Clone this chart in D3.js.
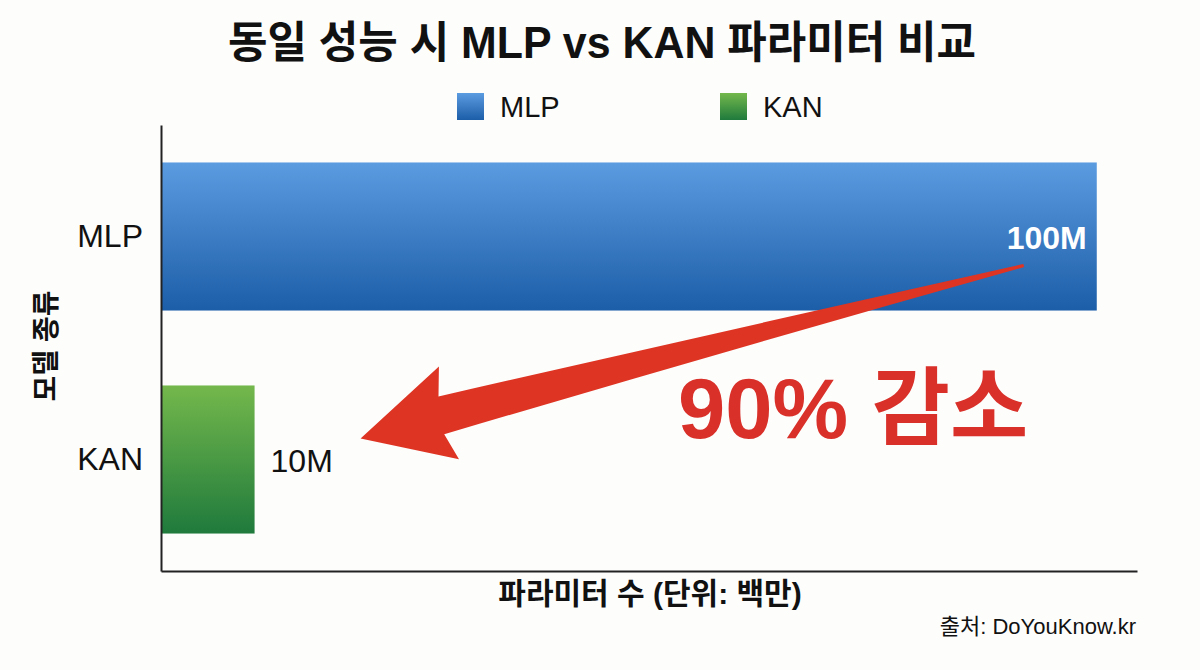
<!DOCTYPE html>
<html>
<head>
<meta charset="utf-8">
<script src="https://cdn.jsdelivr.net/npm/d3@7/dist/d3.min.js"></script>
<style>
  html, body { margin: 0; padding: 0; background: #fdfdfc; }
  svg { display: block; }
  text { font-family: "Liberation Sans", Arial, "Noto Sans CJK KR", sans-serif; }
</style>
</head>
<body>
<script>
const categories = ["MLP", "KAN"];
const values = [100, 10];
const valueLabels = ["100M", "10M"];
const legendLabels = ["MLP", "KAN"];
const titleText = "동일 성능 시 MLP vs KAN 파라미터 비교";
const xAxisTitle = "파라미터 수 (단위: 백만)";
const yAxisTitle = "모델 종류";
const sourceText = "출처: DoYouKnow.kr";
const annotationText = "90% 감소";

(function () {
const W = 1200, H = 670;
const svg = d3.select("body").append("svg").attr("width", W).attr("height", H);
svg.append("rect").attr("width", W).attr("height", H).attr("fill", "#fdfdfc");

const defs = svg.append("defs");
const grads = [
  { id: "gMLP", top: "#5b9be0", bottom: "#1c5ea8" },
  { id: "gKAN", top: "#74b84c", bottom: "#1f7a3c" }
];
grads.forEach(g => {
  const lg = defs.append("linearGradient").attr("id", g.id)
    .attr("x1", 0).attr("y1", 0).attr("x2", 0).attr("y2", 1);
  lg.append("stop").attr("offset", "0%").attr("stop-color", g.top);
  lg.append("stop").attr("offset", "100%").attr("stop-color", g.bottom);
});

const mLeft = 161, mRight = 1137, mTop = 125, mBottom = 571;
const x = d3.scaleLinear().domain([0, 104.3]).range([mLeft, mRight]);
const y = d3.scaleBand().domain(categories).range([mTop, mBottom])
  .paddingInner(0.336).paddingOuter(0.168);
const fills = ["url(#gMLP)", "url(#gKAN)"];

// Title
svg.append("text").attr("x", 602).attr("y", 58).attr("text-anchor", "middle")
  .attr("font-size", 44).attr("font-weight", 700).attr("fill", "#111")
  .attr("textLength", 748).attr("lengthAdjust", "spacingAndGlyphs")
  .text(titleText);

// Legend
const legendX = [457, 720];
legendLabels.forEach((l, i) => {
  svg.append("rect").attr("x", legendX[i]).attr("y", 93).attr("width", 27).attr("height", 27)
    .attr("fill", fills[i]);
  svg.append("text").attr("x", legendX[i] + 43).attr("y", 117)
    .attr("font-size", 29).attr("fill", "#111").text(l);
});

// Bars
svg.selectAll("rect.bar").data(categories).enter().append("rect")
  .attr("class", "bar")
  .attr("x", x(0))
  .attr("y", d => y(d))
  .attr("width", (d, i) => x(values[i]) - x(0))
  .attr("height", y.bandwidth())
  .attr("fill", (d, i) => fills[i]);

// Axes
const yAxis = svg.append("g").attr("transform", `translate(${mLeft},0)`)
  .call(d3.axisLeft(y).tickSize(0).tickPadding(18));
yAxis.select(".domain").attr("stroke", "#222").attr("stroke-width", 2);
yAxis.selectAll("text").attr("font-size", 32).attr("fill", "#111")
  .attr("font-family", "\"Liberation Sans\", Arial, sans-serif");

const xAxis = svg.append("g").attr("transform", `translate(0,${mBottom})`)
  .call(d3.axisBottom(x).tickValues([]).tickSizeOuter(0));
xAxis.select(".domain").attr("stroke", "#222").attr("stroke-width", 2);

// Value labels
svg.append("text")
  .attr("x", x(values[0]) - 10)
  .attr("y", y(categories[0]) + y.bandwidth() / 2 + 12)
  .attr("text-anchor", "end").attr("font-size", 32).attr("font-weight", 700)
  .attr("fill", "#ffffff").text(valueLabels[0]);
svg.append("text")
  .attr("x", x(values[1]) + 16)
  .attr("y", y(categories[1]) + y.bandwidth() / 2 + 12)
  .attr("text-anchor", "start").attr("font-size", 32)
  .attr("fill", "#111").text(valueLabels[1]);

// Axis titles
svg.append("text").attr("transform", "translate(56,346) rotate(-90)")
  .attr("text-anchor", "middle").attr("font-size", 28).attr("font-weight", 700)
  .attr("fill", "#111").text(yAxisTitle);
svg.append("text").attr("x", (mLeft + mRight) / 2 + 1).attr("y", 604)
  .attr("text-anchor", "middle").attr("font-size", 30).attr("font-weight", 700)
  .attr("fill", "#111").text(xAxisTitle);

// Source
svg.append("text").attr("x", 1136).attr("y", 634).attr("text-anchor", "end")
  .attr("font-size", 22).attr("fill", "#111").text(sourceText);

// Arrow (from MLP bar end toward KAN bar)
const T = [x(values[0]) - 73, y(categories[0]) + y.bandwidth() / 2 + 29];
const Hd = [x(values[1]) + 106, y(categories[1]) + y.bandwidth() / 2 - 21];
const dx = Hd[0] - T[0], dy = Hd[1] - T[1];
const L = Math.hypot(dx, dy);
const ang = Math.atan2(dy, dx) * 180 / Math.PI;
const headBase = L - 88;
const p = d3.path();
p.moveTo(0, -1.5);
p.quadraticCurveTo(headBase * 0.5, -7, headBase + 6, -17);
p.lineTo(headBase - 2, -45);
p.lineTo(L, 0);
p.lineTo(headBase - 6, 50);
p.lineTo(headBase + 2, 21);
p.quadraticCurveTo(headBase * 0.5, 12, 0, 1.5);
p.closePath();
svg.append("path").attr("d", p.toString())
  .attr("transform", `translate(${T[0]},${T[1]}) rotate(${ang})`)
  .attr("fill", "#de3423");

// Annotation text
svg.append("text").attr("x", 678).attr("y", 438)
  .attr("font-size", 85).attr("font-weight", 700).attr("fill", "#d9302a")
  .text(annotationText);
})();
</script>
</body>
</html>
